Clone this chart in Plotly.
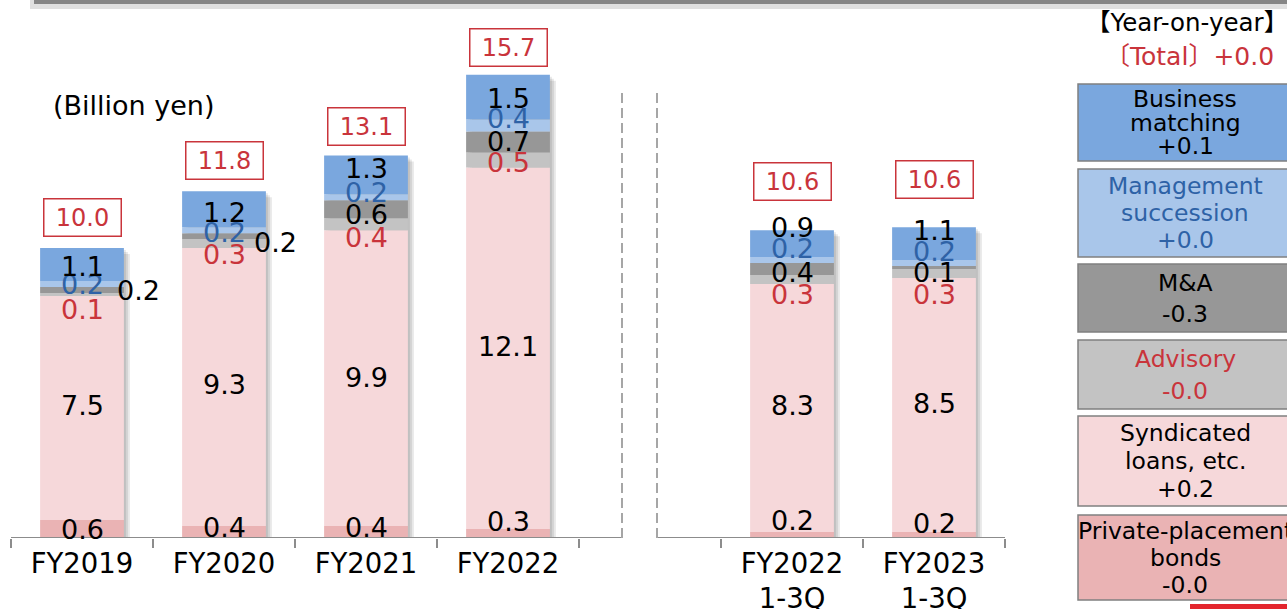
import numpy as np
import plotly.graph_objects as go

# ---------------- data ----------------
CATEGORIES = ["FY2019", "FY2020", "FY2021", "FY2022", "FY2022<br>1-3Q", "FY2023<br>1-3Q"]
GAP = " "
AXIS_ORDER = CATEGORIES[:4] + [GAP] + CATEGORIES[4:]

# stacked from the bottom up
PRIVATE_PLACEMENT = [0.6, 0.4, 0.4, 0.3, 0.2, 0.2]
SYNDICATED = [7.5, 9.3, 9.9, 12.1, 8.3, 8.5]
ADVISORY = [0.1, 0.3, 0.4, 0.5, 0.3, 0.3]
M_AND_A = [0.2, 0.2, 0.6, 0.7, 0.4, 0.1]
SUCCESSION = [0.2, 0.2, 0.2, 0.4, 0.2, 0.2]
MATCHING = [1.1, 1.2, 1.3, 1.5, 0.9, 1.1]
TOTALS = [10.0, 11.8, 13.1, 15.7, 10.6, 10.6]

LEGEND_NAMES = [
    ["Business", "matching"],
    ["Management", "succession"],
    ["M&A"],
    ["Advisory"],
    ["Syndicated", "loans, etc."],
    ["Private-placement", "bonds"],
]
YOY_CHANGE = ["+0.1", "+0.0", "-0.3", "-0.0", "+0.2", "-0.0"]
YOY_TOTAL = "+0.0"

# ---------------- styling ----------------
W, H = 1287, 609
PLOT_BOTTOM = 538          # pixel row of the baseline
YMAX = 18.0
BAR_W = 0.59
FONT = "DejaVu Sans, Noto Sans CJK JP"
RED = "#C9343B"
BLUE_TXT = "#2E62A6"
LINE_GRAY = "#8C8C8C"

series = [
    # values, fill, label colour, label y-nudge (px), label x-nudge (px)
    (PRIVATE_PLACEMENT, "#EAB3B4", "black", [0, 5, 5, 12, 15, 12], None),
    (SYNDICATED, "#F6D8DA", "black", [2, 3, 1, 2, 2, 1], None),
    (ADVISORY, "#C3C3C3", RED, [-15, -11, -13, -3, -15, -21], None),
    (M_AND_A, "#979797", "black", [-1, -6, -5, 0, -3, -5], [56, 51, 0, 0, 0, 0]),
    (SUCCESSION, "#A9C6EA", BLUE_TXT, [-1, -2, 5, 7, 12, 12], None),
    (MATCHING, "#7AA7DE", "black", [-2, -3, 6, -1, 16, 13], None),
]
BOX_LIFT = [31, 31, 29, 27, 49, 48]

legend_fill = ["#7AA7DE", "#A9C6EA", "#979797", "#C3C3C3", "#F6D8DA", "#EAB3B4"]
legend_txt = ["black", BLUE_TXT, "black", RED, "black", "black"]
legend_rows = [(84, 161), (169, 257), (264, 332), (340, 409), (416, 506), (515, 600)]
legend_spacing = [24, 27, 31, 32, 28, 27]


def px(x):
    return x / W


def py(y):
    return (PLOT_BOTTOM - y) / PLOT_BOTTOM


def cat_x(xpix):
    # pixel column -> category index units
    return (xpix - 82) / 142


fig = go.Figure()

stack = np.vstack([s[0] for s in series])
bases = np.vstack([np.zeros(len(CATEGORIES)), np.cumsum(stack, axis=0)[:-1]])
tops = stack.sum(axis=0)

# soft drop shadow to the right of each bar
for k in (6, 4, 2):
    fig.add_trace(go.Bar(
        x=CATEGORIES, y=tops - k / 29.9, base=0,
        width=BAR_W, offset=-BAR_W / 2 + k / 142,
        marker=dict(color="rgba(0,0,0,0.09)", line_width=0),
        hoverinfo="skip", showlegend=False,
    ))

for (vals, fill, tcol, dy, dx), base in zip(series, bases):
    fig.add_trace(go.Bar(
        x=CATEGORIES, y=vals, base=base, width=BAR_W,
        marker=dict(color=fill, line_width=0), showlegend=False,
    ))
    for i, c in enumerate(CATEGORIES):
        fig.add_annotation(
            x=c, y=base[i] + vals[i] / 2, text=f"{vals[i]:.1f}",
            showarrow=False, yshift=dy[i], xshift=(dx[i] if dx else 0),
            font=dict(family=FONT, size=27, color=tcol),
        )

# red total boxes
for i, c in enumerate(CATEGORIES):
    fig.add_annotation(
        x=c, y=tops[i], text=f"{TOTALS[i]:.1f}", showarrow=False,
        yshift=BOX_LIFT[i], yanchor="middle",
        width=70, height=30, borderpad=3,
        bordercolor=RED, borderwidth=1.5, bgcolor="white",
        font=dict(family=FONT, size=24, color=RED),
    )

shapes = []
# x axis line, broken at the divider
for a, b in [(-0.5, cat_x(622)), (cat_x(657), 6.5)]:
    shapes.append(dict(type="line", xref="x", yref="y", x0=a, x1=b, y0=0, y1=0,
                       line=dict(color=LINE_GRAY, width=2)))
# dashed dividers
for xp in (622, 657):
    shapes.append(dict(type="line", xref="x", yref="paper", x0=cat_x(xp), x1=cat_x(xp),
                       y0=0, y1=py(90), line=dict(color="#A6A6A6", width=2, dash="10px,5px")))

# year-on-year legend boxes
for i, (y0, y1) in enumerate(legend_rows):
    shapes.append(dict(type="rect", xref="paper", yref="paper",
                       x0=px(1078), x1=px(1295), y0=py(y1), y1=py(y0),
                       fillcolor=legend_fill[i], line=dict(color="#808080", width=1.5),
                       layer="below"))
    lines = LEGEND_NAMES[i] + [YOY_CHANGE[i]]
    mid = (y0 + y1) / 2
    n = len(lines)
    for j, t in enumerate(lines):
        yl = mid + (j - (n - 1) / 2) * legend_spacing[i]
        fig.add_annotation(xref="paper", yref="paper", x=px(1185), y=py(yl),
                           text=t, showarrow=False, xanchor="center", yanchor="middle",
                           font=dict(family=FONT, size=23.5, color=legend_txt[i]))

fig.add_annotation(xref="paper", yref="paper", x=px(1187), y=py(22), text="【Year-on-year】",
                   showarrow=False, xanchor="center", yanchor="middle",
                   font=dict(family=FONT, size=24.5, color="black"))
fig.add_annotation(xref="paper", yref="paper", x=px(1189), y=py(57), text=f"〔Total〕{YOY_TOTAL}",
                   showarrow=False, xanchor="center", yanchor="middle",
                   font=dict(family=FONT, size=25, color=RED))
fig.add_annotation(xref="paper", yref="paper", x=px(134), y=py(105), text="(Billion yen)",
                   showarrow=False, xanchor="center", yanchor="middle",
                   font=dict(family=FONT, size=27, color="black"))

# slide decorations: top frame shadow and red corner strip
shapes.append(dict(type="rect", xref="paper", yref="paper", x0=px(30), x1=px(1287),
                   y0=py(9), y1=py(0), fillcolor="rgba(0,0,0,0.12)", line_width=0))
shapes.append(dict(type="rect", xref="paper", yref="paper", x0=px(34), x1=px(1287),
                   y0=py(4), y1=py(0), fillcolor="rgba(60,60,60,0.55)", line_width=0))
shapes.append(dict(type="rect", xref="paper", yref="paper", x0=px(1190), x1=px(1287),
                   y0=py(609), y1=py(604), fillcolor="#E3262E", line_width=0))

fig.update_layout(
    width=W, height=H,
    margin=dict(l=0, r=0, t=0, b=H - PLOT_BOTTOM),
    barmode="overlay",
    paper_bgcolor="white", plot_bgcolor="white",
    font=dict(family=FONT),
    shapes=shapes,
    xaxis=dict(
        type="category", categoryorder="array", categoryarray=AXIS_ORDER,
        range=[cat_x(0), cat_x(W)], showline=False, showgrid=False, zeroline=False,
        ticks="outside", tickson="boundaries", ticklen=9, tickwidth=2, tickcolor=LINE_GRAY,
        ticklabelstandoff=6,
        tickfont=dict(family=FONT, size=27.5, color="black"), automargin=False,
    ),
    yaxis=dict(range=[0, YMAX], visible=False, fixedrange=True),
)

# the page body has a default 8px margin; drop it so the figure sits at the corner
fig.write_html(
    "out.html",
    config={"displayModeBar": False},
    post_script="document.body.style.margin='0';document.body.style.overflow='hidden';",
)
